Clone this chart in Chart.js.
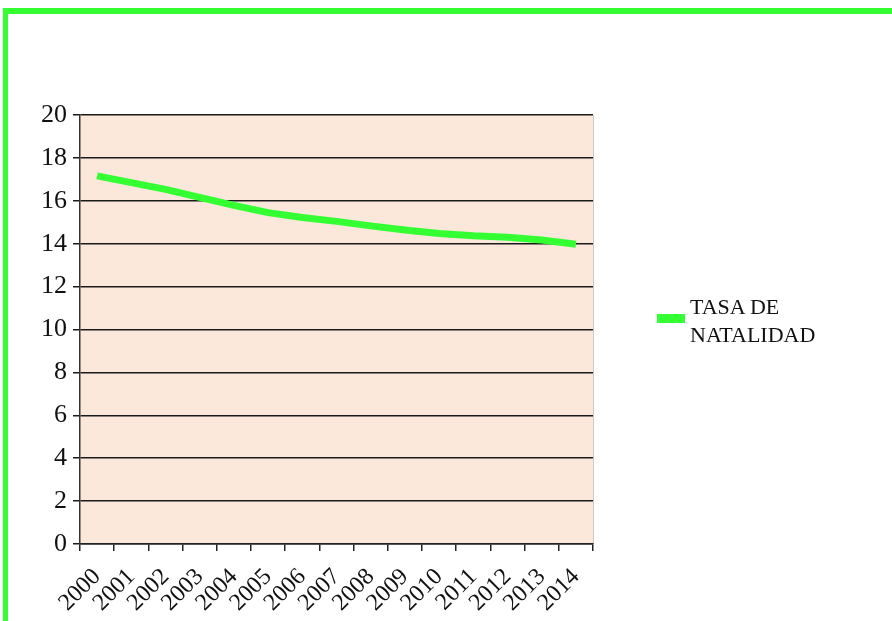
<!DOCTYPE html>
<html>
<head>
<meta charset="utf-8">
<script src="https://cdn.jsdelivr.net/npm/chart.js@4/dist/chart.umd.min.js"></script>
<style>
  body { margin: 0; background: #fff; }
  #wrap { position: relative; width: 892px; height: 621px; overflow: hidden; }
  #frame { position: absolute; left: 3px; top: 8px; width: 1000px; height: 700px;
           border-left: 5px solid #33ff33; border-top: 6px solid #33ff33; }
  canvas { position: absolute; left: 0; top: 0; }
  #legend { position: absolute; left: 657px; top: 293px; font-family: "Liberation Serif", serif;
            font-size: 22px; line-height: 28px; color: #111; }
  #legend .sw { position: absolute; left: 0; top: 21px; width: 28px; height: 9px; background: #33ff33; }
  #legend .tx { position: absolute; left: 33px; top: 0; white-space: nowrap; }
</style>
</head>
<body>
<div id="wrap">
  <div id="frame"></div>
  <canvas id="chart" width="892" height="621"></canvas>
  <div id="legend"><div class="sw"></div><div class="tx">TASA DE<br>NATALIDAD</div></div>
</div>
<script>
// datos
var years = ['2000','2001','2002','2003','2004','2005','2006','2007','2008','2009','2010','2011','2012','2013','2014'];
var natalidad = [17.16, 16.85, 16.53, 16.16, 15.79, 15.45, 15.22, 15.04, 14.83, 14.64, 14.48, 14.37, 14.3, 14.17, 13.97];
var yTicks = [0, 2, 4, 6, 8, 10, 12, 14, 16, 18, 20];

// fondo del área de trazado
var plotBg = {
  id: 'plotBg',
  beforeDraw: function (chart) {
    var a = chart.chartArea, c = chart.ctx;
    c.save();
    c.fillStyle = '#fce8da';
    c.fillRect(a.left, a.top, a.right - a.left, a.bottom - a.top);
    c.strokeStyle = '#c8c8c8';
    c.lineWidth = 1;
    c.beginPath();
    c.moveTo(a.right + 0.5, a.top);
    c.lineTo(a.right + 0.5, a.bottom);
    c.stroke();
    c.restore();
  }
};

var ctx = document.getElementById('chart').getContext('2d');
var chart = new Chart(ctx, {
  type: 'line',
  data: {
    labels: years,
    datasets: [{
      label: 'TASA DE NATALIDAD',
      data: natalidad,
      borderColor: '#33ff33',
      borderWidth: 7,
      pointRadius: 0,
      tension: 0,
      fill: false
    }]
  },
  options: {
    responsive: false,
    animation: false,
    layout: { padding: { left: 0, top: 115, right: 299, bottom: 0 } },
    plugins: { legend: { display: false }, tooltip: { enabled: false } },
    scales: {
      x: {
        offset: true,
        grid: { offset: true, drawOnChartArea: false, drawTicks: true, tickLength: 7, color: '#222', lineWidth: 1.5 },
        border: { color: '#222', width: 1.5 },
        ticks: { color: '#111', font: { family: 'Liberation Serif', size: 24 }, minRotation: 45, maxRotation: 45, padding: 12, autoSkip: false },
        afterFit: function (s) { s.height = 77; }
      },
      y: {
        min: 0, max: 20,
        afterBuildTicks: function (s) { s.ticks = yTicks.map(function (v) { return { value: v }; }); },
        grid: { color: '#1a1a1a', lineWidth: 1.5, tickLength: 7 },
        border: { color: '#333', width: 1.5 },
        ticks: { color: '#111', font: { family: 'Liberation Serif', size: 26 }, padding: 6 },
        afterFit: function (s) { s.width = 80; }
      }
    }
  },
  plugins: [plotBg]
});
</script>
</body>
</html>
